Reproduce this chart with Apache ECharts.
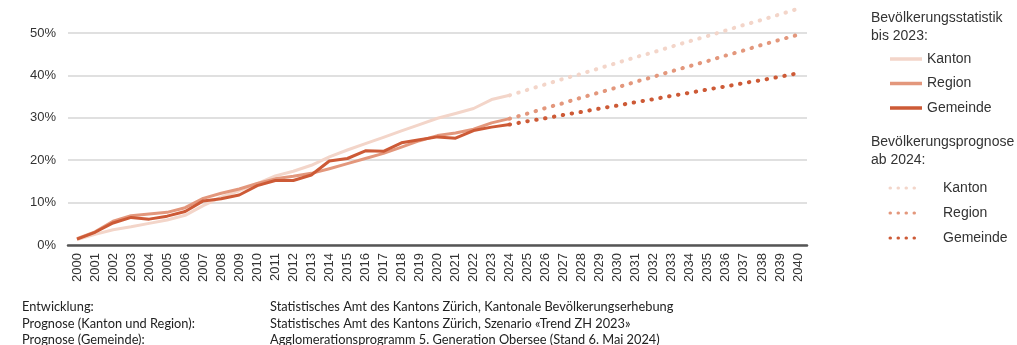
<!DOCTYPE html>
<html>
<head>
<meta charset="utf-8">
<script src="https://cdn.jsdelivr.net/npm/echarts@6/dist/echarts.min.js"></script>
<style>
  html, body { margin: 0; padding: 0; background: #fff; }
  #chart { width: 1017px; height: 345px; }
</style>
</head>
<body>
<div id="chart"></div>
<script>
// Jahre (Kategorien der x-Achse)
const years = ['2000','2001','2002','2003','2004','2005','2006','2007','2008','2009',
  '2010','2011','2012','2013','2014','2015','2016','2017','2018','2019',
  '2020','2021','2022','2023','2024','2025','2026','2027','2028','2029',
  '2030','2031','2032','2033','2034','2035','2036','2037','2038','2039','2040'];

// Bevölkerungswachstum seit 2000 in %, Statistik 2000–2024
const kantonHist = [1.3, 2.5, 3.6, 4.3, 5.1, 5.9, 7.0, 9.3, 11.3, 12.8, 14.5, 16.3, 17.4,
  18.8, 20.8, 22.4, 23.9, 25.4, 26.9, 28.4, 29.9, 31.0, 32.2, 34.3, 35.3];
const regionHist = [1.5, 3.1, 5.6, 6.9, 7.3, 7.7, 8.8, 11.0, 12.2, 13.2, 14.5, 15.6, 16.2,
  16.9, 18.0, 19.2, 20.4, 21.6, 23.1, 24.6, 25.8, 26.4, 27.3, 28.8, 29.8];
const gemeindeHist = [1.4, 3.0, 5.2, 6.5, 6.1, 6.8, 7.9, 10.4, 10.9, 11.8, 14.0, 15.2, 15.2,
  16.5, 19.8, 20.4, 22.2, 22.1, 24.1, 24.8, 25.5, 25.2, 27.0, 27.8, 28.4];

// Prognose 2024–2040 in %
const kantonProg = [35.3, 36.6, 37.9, 39.2, 40.4, 41.7, 43.0, 44.3, 45.5, 46.8, 48.1, 49.3,
  50.6, 51.9, 53.1, 54.4, 55.7];
const regionProg = [29.8, 31.0, 32.3, 33.5, 34.8, 36.0, 37.2, 38.5, 39.7, 41.0, 42.2, 43.4,
  44.7, 45.9, 47.2, 48.4, 49.6];
const gemeindeProg = [28.4, 29.2, 29.9, 30.7, 31.4, 32.2, 32.9, 33.7, 34.4, 35.2, 35.9, 36.7,
  37.4, 38.2, 38.9, 39.7, 40.5];

const yTicks = [0, 10, 20, 30, 40, 50];

const legendNames = ['Kanton', 'Region', 'Gemeinde'];
const legendTitles = [['Bevölkerungsstatistik', 'bis 2023:'], ['Bevölkerungsprognose', 'ab 2024:']];

const sourceRows = [
  ['Entwicklung:', 'Statistisches Amt des Kantons Zürich, Kantonale Bevölkerungserhebung'],
  ['Prognose (Kanton und Region):', 'Statistisches Amt des Kantons Zürich, Szenario «Trend ZH 2023»'],
  ['Prognose (Gemeinde):', 'Agglomerationsprogramm 5. Generation Obersee (Stand 6. Mai 2024)']
];

const colors = ['#f3d5c9', '#e3977c', '#cd5a36'];
const dotted = { width: 4, type: [0.5, 8.5], cap: 'round' };

const padStart = (arr) => Array(years.length - arr.length).fill(null).concat(arr);

function lineSeries(name, data, color, z, style) {
  return {
    name, type: 'line', data, z, showSymbol: false, symbol: 'none', clip: false,
    lineStyle: Object.assign({ color, width: 3, join: 'round' }, style || {}),
    itemStyle: { color }
  };
}

const font = 'Liberation Sans, Arial, sans-serif';
const footFont = 'Lato, sans-serif';

// Legende: zwei Blöcke (Statistik durchgezogen, Prognose gepunktet)
const graphics = [];
legendTitles.forEach((lines, b) => {
  lines.forEach((t, k) => {
    graphics.push({ type: 'text', x: 871, y: (b === 0 ? 18 : 142) + k * 18,
      style: { text: t, font: '14px ' + font, fill: '#333', verticalAlign: 'middle' } });
  });
});
legendNames.forEach((n, i) => {
  const y1 = 59 + i * 24.5;
  graphics.push({ type: 'line', shape: { x1: 890, y1, x2: 922, y2: y1 },
    style: { stroke: colors[i], lineWidth: 3.5 } });
  graphics.push({ type: 'text', x: 927, y: y1,
    style: { text: n, font: '14px ' + font, fill: '#333', verticalAlign: 'middle' } });
  const y2 = 188 + i * 25;
  graphics.push({ type: 'line', shape: { x1: 890, y1: y2, x2: 922, y2 },
    style: { stroke: colors[i], lineWidth: 3, lineDash: [0.5, 7.5], lineCap: 'round' } });
  graphics.push({ type: 'text', x: 943, y: y2,
    style: { text: n, font: '14px ' + font, fill: '#333', verticalAlign: 'middle' } });
});
// Quellenangaben
sourceRows.forEach((row, i) => {
  const y = 307 + i * 16.5;
  graphics.push({ type: 'text', x: 22, y, style: { text: row[0], font: '12.8px ' + footFont, fill: '#222', verticalAlign: 'middle' } });
  graphics.push({ type: 'text', x: 270, y, style: { text: row[1], font: '12.8px ' + footFont, fill: '#222', verticalAlign: 'middle' } });
});

const chart = echarts.init(document.getElementById('chart'), null, { renderer: 'canvas' });
chart.setOption({
  animation: false,
  backgroundColor: '#fff',
  grid: { left: 68, right: 210, top: 33, bottom: 100, containLabel: false },
  xAxis: {
    type: 'category', data: years, boundaryGap: true,
    axisLine: { lineStyle: { color: '#555', width: 2.5 } },
    axisTick: { show: false },
    axisLabel: { rotate: 90, margin: 8, interval: 0, color: '#333', fontSize: 13, fontFamily: font }
  },
  yAxis: {
    type: 'value', min: yTicks[0], max: yTicks[yTicks.length - 1], interval: 10,
    axisLine: { show: false }, axisTick: { show: false },
    axisLabel: { formatter: '{value}%', color: '#333', fontSize: 13, fontFamily: font, margin: 12 },
    splitLine: { lineStyle: { color: '#d6d6d6', width: 1.5 } }
  },
  graphic: graphics,
  series: [
    lineSeries('Kanton', kantonHist, colors[0], 2),
    lineSeries('Region', regionHist, colors[1], 3),
    lineSeries('Gemeinde', gemeindeHist, colors[2], 4),
    lineSeries('Kanton Prognose', padStart(kantonProg), colors[0], 2, dotted),
    lineSeries('Region Prognose', padStart(regionProg), colors[1], 3, dotted),
    lineSeries('Gemeinde Prognose', padStart(gemeindeProg), colors[2], 4, dotted)
  ]
});
</script>
</body>
</html>
